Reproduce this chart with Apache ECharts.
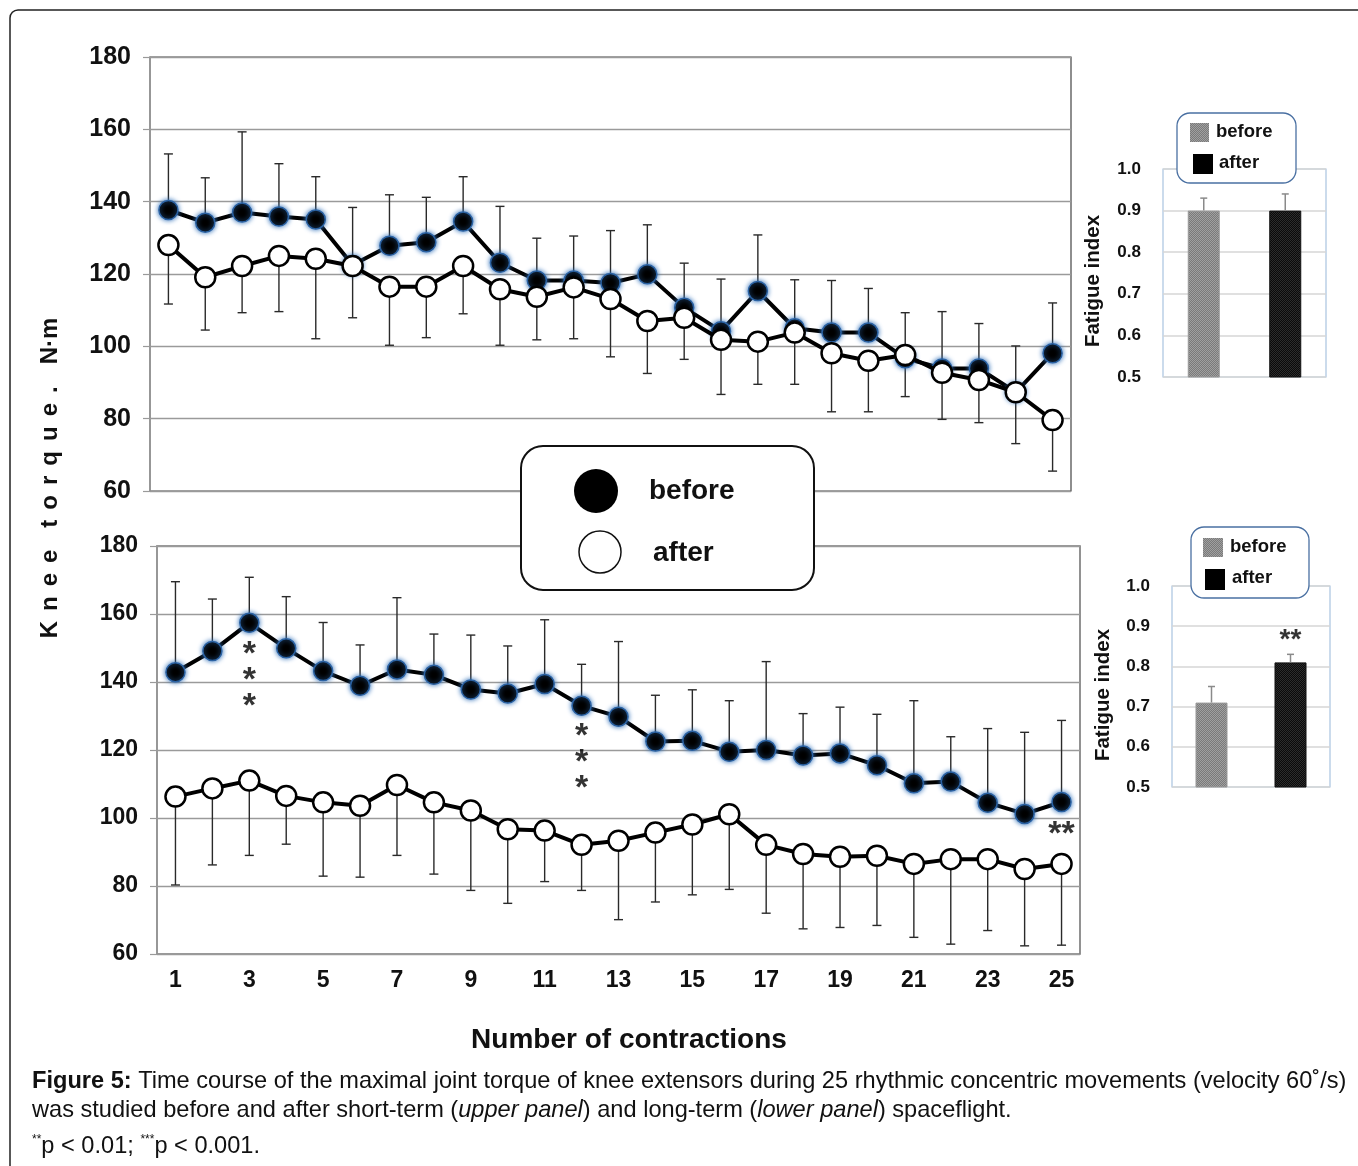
<!DOCTYPE html>
<html>
<head>
<meta charset="utf-8">
<title>Knee extensor torque</title>
<script src="https://cdn.jsdelivr.net/npm/echarts@6/dist/echarts.min.js"></script>
<style>
  html, body { margin: 0; padding: 0; background: #fff; }
  #chart { width: 1358px; height: 1166px; }
</style>
</head>
<body>
<div id="chart"></div>
<script>
// Contraction numbers (x categories)
const contractions = ['1','2','3','4','5','6','7','8','9','10','11','12','13',
  '14','15','16','17','18','19','20','21','22','23','24','25'];

// Upper panel: short-term spaceflight (torque, N·m) with SD
const shortBefore   = [137.7,134.2,137.0,135.9,135.1,122.5,127.8,128.8,134.5,123.1,118.2,118.2,117.5,
                       119.9,110.7,104.2,115.3,105.0,103.8,103.8,96.7,93.9,93.9,87.3,98.1];
const shortBeforeSD = [15.5,12.4,22.3,14.6,11.8,15.9,14.1,12.4,12.4,15.6,11.7,12.3,14.5,
                       13.7,12.3,14.4,15.5,13.4,14.4,12.2,12.6,15.7,12.4,12.8,13.9];
const shortAfter    = [128.0,119.1,122.2,125.0,124.2,122.2,116.5,116.5,122.2,115.8,113.7,116.3,113.1,
                       107.0,107.9,101.8,101.3,103.8,98.1,96.0,97.6,92.7,90.7,87.3,79.6];
const shortAfterSD  = [16.3,14.6,12.9,15.4,22.1,14.3,16.2,14.1,13.2,15.5,11.9,14.2,16.0,
                       14.5,11.5,15.1,11.8,14.3,16.2,14.1,11.5,12.9,11.8,14.2,14.1];

// Lower panel: long-term spaceflight (torque, N·m) with SD
const longBefore    = [142.9,149.1,157.4,149.9,143.2,138.9,143.7,142.1,137.8,136.6,139.4,133.0,129.8,
                       122.5,122.7,119.5,120.0,118.4,119.0,115.5,110.2,110.7,104.5,101.2,104.7];
const longBeforeSD  = [26.6,15.3,13.4,15.2,14.3,12.0,21.1,12.0,16.0,14.0,18.9,12.2,22.1,
                       13.6,15.0,15.0,26.0,12.3,13.6,15.0,24.3,13.2,21.8,24.0,24.0];
const longAfter     = [106.3,108.7,111.0,106.5,104.6,103.6,109.7,104.6,102.2,96.7,96.3,92.1,93.3,
                       95.7,98.1,101.1,92.1,89.4,88.6,88.9,86.5,87.9,87.9,85.0,86.5];
const longAfterSD   = [26.0,22.5,22.0,14.2,21.7,21.0,20.7,21.1,23.5,21.8,15.0,13.4,23.2,
                       20.4,20.7,22.1,20.1,22.0,20.8,20.5,21.6,25.0,21.0,22.6,23.9];

// Fatigue index insets
const fatigueGroups   = ['before', 'after'];
const fatigueShort    = [0.90, 0.90];
const fatigueShortSD  = [0.03, 0.04];
const fatigueLong     = [0.71, 0.81];
const fatigueLongSD   = [0.04, 0.02];

// Significance marks: [category, y anchor, text]
const longSig    = [['3', 140.5, '*\n*\n*'], ['12', 116.4, '*\n*\n*'], ['25', 95.2, '**']];
const fatigueSig = [['after', 0.866, '**']];

const torqueTicks  = [60, 180, 20];
const fatigueTicks = [0.5, 1.0, 0.1];

const SANS = '"Liberation Sans", Arial, sans-serif';

// fine dotted fills for the inset bars
function makePattern(bg, fg, cell) {
  const c = document.createElement('canvas');
  c.width = c.height = cell * 2;
  const g = c.getContext('2d');
  g.fillStyle = bg; g.fillRect(0, 0, cell * 2, cell * 2);
  g.fillStyle = fg;
  g.fillRect(0, 0, cell, cell);
  g.fillRect(cell, cell, cell, cell);
  return { image: c, repeat: 'repeat' };
}
const grayFill  = makePattern('#7a7a7a', '#a0a0a0', 1);
const blackFill = makePattern('#0a0a0a', '#2c2c2c', 1);

// vertical one-sided error bar with a cap
function errorBar(dir, color, width, cap) {
  return function (params, api) {
    const x = api.value(0), m = api.value(1), sd = api.value(2);
    const p0 = api.coord([x, m]);
    const p1 = api.coord([x, m + dir * sd]);
    const st = { stroke: color, lineWidth: width };
    return {
      type: 'group',
      children: [
        { type: 'line', shape: { x1: p0[0], y1: p0[1], x2: p1[0], y2: p1[1] }, style: st },
        { type: 'line', shape: { x1: p1[0] - cap, y1: p1[1], x2: p1[0] + cap, y2: p1[1] }, style: st }
      ]
    };
  };
}

function errSeries(axis, means, sds, dir) {
  return {
    type: 'custom', xAxisIndex: axis, yAxisIndex: axis, z: 1, silent: true,
    renderItem: errorBar(dir, '#2a2a2a', 1.4, 4.5),
    data: means.map((m, i) => [i, m, sds[i]])
  };
}

function lineSeries(axis, values, filled) {
  return {
    type: 'line', xAxisIndex: axis, yAxisIndex: axis, z: filled ? 3 : 4,
    data: values, symbol: 'circle', symbolSize: filled ? 19 : 20, showAllSymbol: true,
    lineStyle: { color: '#000', width: 4 },
    itemStyle: filled
      ? { color: '#000', borderColor: '#2b62a3', borderWidth: 1.5, shadowBlur: 5, shadowColor: '#2f6fb8' }
      : { color: '#fff', borderColor: '#000', borderWidth: 2.5 },
    emphasis: { disabled: true }, silent: true
  };
}

function torqueYAxis(grid, size) {
  return {
    type: 'value', gridIndex: grid, min: torqueTicks[0], max: torqueTicks[1], interval: torqueTicks[2],
    axisLine: { show: true, lineStyle: { color: '#9a9a9a', width: 1.5 } },
    axisTick: { show: true, length: 7, lineStyle: { color: '#9a9a9a', width: 1.2 } },
    axisLabel: { fontSize: size, fontWeight: 'bold', color: '#111', margin: 19, fontFamily: SANS },
    splitLine: { lineStyle: { color: '#9a9a9a', width: 1.3 } }
  };
}

function fatigueYAxis(grid) {
  return {
    type: 'value', gridIndex: grid, min: fatigueTicks[0], max: fatigueTicks[1], interval: fatigueTicks[2],
    axisLine: { show: false }, axisTick: { show: false },
    axisLabel: { fontSize: 17, fontWeight: 'bold', color: '#111', margin: 22, fontFamily: SANS,
                 formatter: v => v.toFixed(1), padding: [12, 0, 0, 0] },
    splitLine: { lineStyle: { color: '#d6d6d6', width: 1.5 } }
  };
}

function fatigueBars(axis, values, sds) {
  return [{
    type: 'bar', xAxisIndex: axis, yAxisIndex: axis, barWidth: 32, z: 2, silent: true,
    data: values.map((v, i) => ({
      value: v,
      itemStyle: { color: i === 0 ? grayFill : blackFill, borderColor: i === 0 ? '#999' : '#111', borderWidth: 1 }
    }))
  }, {
    type: 'custom', xAxisIndex: axis, yAxisIndex: axis, z: 3, silent: true,
    renderItem: errorBar(1, '#8a8a8a', 1.5, 3.5),
    data: values.map((v, i) => [i, v, sds[i]])
  }];
}

function sigSeries(axis, marks, size, lh) {
  return {
    type: 'scatter', xAxisIndex: axis, yAxisIndex: axis, z: 6, silent: true,
    symbolSize: 1, itemStyle: { color: 'rgba(0,0,0,0)' },
    data: marks.map(m => ({ value: [m[0], m[1]], name: m[2] })),
    label: { show: true, position: 'inside', formatter: p => p.name,
             fontSize: size, fontWeight: 'bold', color: '#000', lineHeight: lh,
             textBorderWidth: 0, textShadowBlur: 0, fontFamily: SANS }
  };
}

// Rotated axis title with widened letter spacing
function spaced(word) { return word.split('').join('{g| }'); }
const torqueTitle = spaced('Knee') + '{w| }' + spaced('torque.') + '{w| }' + 'N·m';

const chart = echarts.init(document.getElementById('chart'), null, { renderer: 'canvas' });

const labelStyle = (size) => ({ fontSize: size, fontWeight: 'bold', fill: '#111', fontFamily: SANS, verticalAlign: 'middle' });

const option = {
  animation: false,
  backgroundColor: '#fff',
  grid: [
    { left: 150, top: 57, width: 921, height: 434, show: true, borderColor: '#444', borderWidth: 1.2 },
    { left: 157, top: 546, width: 923, height: 408, show: true, borderColor: '#777', borderWidth: 1.6 },
    { left: 1163, top: 169, width: 163, height: 208, show: true, borderColor: '#a9c3df', borderWidth: 1.2 },
    { left: 1172, top: 586, width: 158, height: 201, show: true, borderColor: '#a9c3df', borderWidth: 1.2 }
  ],
  xAxis: [
    { type: 'category', gridIndex: 0, data: contractions, axisLine: { show: false }, axisTick: { show: false },
      axisLabel: { show: false } },
    { type: 'category', gridIndex: 1, data: contractions, axisLine: { show: false }, axisTick: { show: false },
      axisLabel: { interval: 1, fontSize: 23, fontWeight: 'bold', color: '#111', margin: 15, fontFamily: SANS } },
    { type: 'category', gridIndex: 2, data: fatigueGroups, axisLine: { show: false }, axisTick: { show: false },
      axisLabel: { show: false } },
    { type: 'category', gridIndex: 3, data: fatigueGroups, axisLine: { show: false }, axisTick: { show: false },
      axisLabel: { show: false } }
  ],
  yAxis: [
    torqueYAxis(0, 25),
    torqueYAxis(1, 23),
    fatigueYAxis(2),
    fatigueYAxis(3)
  ],
  series: [
    errSeries(0, shortBefore, shortBeforeSD, 1),
    errSeries(0, shortAfter, shortAfterSD, -1),
    lineSeries(0, shortBefore, true),
    lineSeries(0, shortAfter, false),
    errSeries(1, longBefore, longBeforeSD, 1),
    errSeries(1, longAfter, longAfterSD, -1),
    lineSeries(1, longBefore, true),
    lineSeries(1, longAfter, false),
    sigSeries(1, longSig, 34, 26),
    ...fatigueBars(2, fatigueShort, fatigueShortSD),
    ...fatigueBars(3, fatigueLong, fatigueLongSD),
    sigSeries(3, fatigueSig, 28, 26)
  ],
  graphic: [
    // outer figure frame
    { type: 'rect', z: 0, silent: true, shape: { x: 10, y: 10, width: 1400, height: 1200, r: 8 },
      style: { fill: 'none', stroke: '#222', lineWidth: 1.5 } },

    // torque axis title
    { type: 'text', z: 10, x: 50, y: 478, rotation: Math.PI / 2, silent: true,
      style: { text: torqueTitle, fontSize: 24, fontWeight: 'bold', fill: '#111', fontFamily: SANS,
               align: 'center', verticalAlign: 'middle',
               rich: { g: { width: 10, fontSize: 24 }, w: { width: 22, fontSize: 24 } } } },

    // series legend
    { type: 'rect', z: 100, silent: true, shape: { x: 521, y: 446, width: 293, height: 144, r: 22 },
      style: { fill: '#fff', stroke: '#111', lineWidth: 2 } },
    { type: 'circle', z: 101, silent: true, shape: { cx: 596, cy: 491, r: 22 }, style: { fill: '#000' } },
    { type: 'circle', z: 101, silent: true, shape: { cx: 600, cy: 552, r: 21 },
      style: { fill: '#fff', stroke: '#111', lineWidth: 1.5 } },
    { type: 'text', z: 101, x: 649, y: 491, silent: true, style: Object.assign({ text: 'before' }, labelStyle(28)) },
    { type: 'text', z: 101, x: 653, y: 553, silent: true, style: Object.assign({ text: 'after' }, labelStyle(28)) },

    // inset legends
    { type: 'rect', z: 100, silent: true, shape: { x: 1177, y: 113, width: 119, height: 70, r: 13 },
      style: { fill: '#fff', stroke: '#4a70a2', lineWidth: 1.3 } },
    { type: 'rect', z: 101, silent: true, shape: { x: 1190, y: 123, width: 19, height: 19 }, style: { fill: grayFill } },
    { type: 'rect', z: 101, silent: true, shape: { x: 1193, y: 154, width: 20, height: 20 }, style: { fill: '#000' } },
    { type: 'text', z: 101, x: 1216, y: 132, silent: true, style: Object.assign({ text: 'before' }, labelStyle(18.5)) },
    { type: 'text', z: 101, x: 1219, y: 163, silent: true, style: Object.assign({ text: 'after' }, labelStyle(18.5)) },

    { type: 'rect', z: 100, silent: true, shape: { x: 1191, y: 527, width: 118, height: 71, r: 13 },
      style: { fill: '#fff', stroke: '#4a70a2', lineWidth: 1.3 } },
    { type: 'rect', z: 101, silent: true, shape: { x: 1203, y: 538, width: 20, height: 19 }, style: { fill: grayFill } },
    { type: 'rect', z: 101, silent: true, shape: { x: 1205, y: 569, width: 20, height: 21 }, style: { fill: '#000' } },
    { type: 'text', z: 101, x: 1230, y: 547, silent: true, style: Object.assign({ text: 'before' }, labelStyle(18.5)) },
    { type: 'text', z: 101, x: 1232, y: 578, silent: true, style: Object.assign({ text: 'after' }, labelStyle(18.5)) },

    // fatigue axis titles
    { type: 'text', z: 10, x: 1093, y: 281, rotation: Math.PI / 2, silent: true,
      style: { text: 'Fatigue index', fontSize: 20.5, fontWeight: 'bold', fill: '#111', fontFamily: SANS,
               align: 'center', verticalAlign: 'middle' } },
    { type: 'text', z: 10, x: 1103, y: 695, rotation: Math.PI / 2, silent: true,
      style: { text: 'Fatigue index', fontSize: 20.5, fontWeight: 'bold', fill: '#111', fontFamily: SANS,
               align: 'center', verticalAlign: 'middle' } },

    // shared x axis title
    { type: 'text', z: 10, x: 629, y: 1040, silent: true,
      style: { text: 'Number of contractions', fontSize: 28, fontWeight: 'bold', fill: '#111', fontFamily: SANS,
               align: 'center', verticalAlign: 'middle' } },

    // caption
    { type: 'text', z: 10, x: 32, y: 1081, silent: true,
      style: { text: '{b|Figure 5:} Time course of the maximal joint torque of knee extensors during 25 rhythmic concentric movements (velocity 60˚/s)',
               fontSize: 23.6, fill: '#111', fontFamily: SANS, verticalAlign: 'middle',
               rich: { b: { fontWeight: 'bold', fontSize: 23.6, fontFamily: SANS } } } },
    { type: 'text', z: 10, x: 32, y: 1110, silent: true,
      style: { text: 'was studied before and after short-term ({i|upper panel}) and long-term ({i|lower panel}) spaceflight.',
               fontSize: 23.6, fill: '#111', fontFamily: SANS, verticalAlign: 'middle',
               rich: { i: { fontStyle: 'italic', fontSize: 23.6, fontFamily: SANS } } } },
    { type: 'text', z: 10, x: 32, y: 1146, silent: true,
      style: { text: '{s|**}p < 0.01; {s|***}p < 0.001.',
               fontSize: 23.6, fill: '#111', fontFamily: SANS, verticalAlign: 'middle',
               rich: { s: { fontSize: 12, fontFamily: SANS, verticalAlign: 'top', padding: [0, 0, 12, 0] } } } }
  ]
};

chart.setOption(option);
</script>
</body>
</html>
